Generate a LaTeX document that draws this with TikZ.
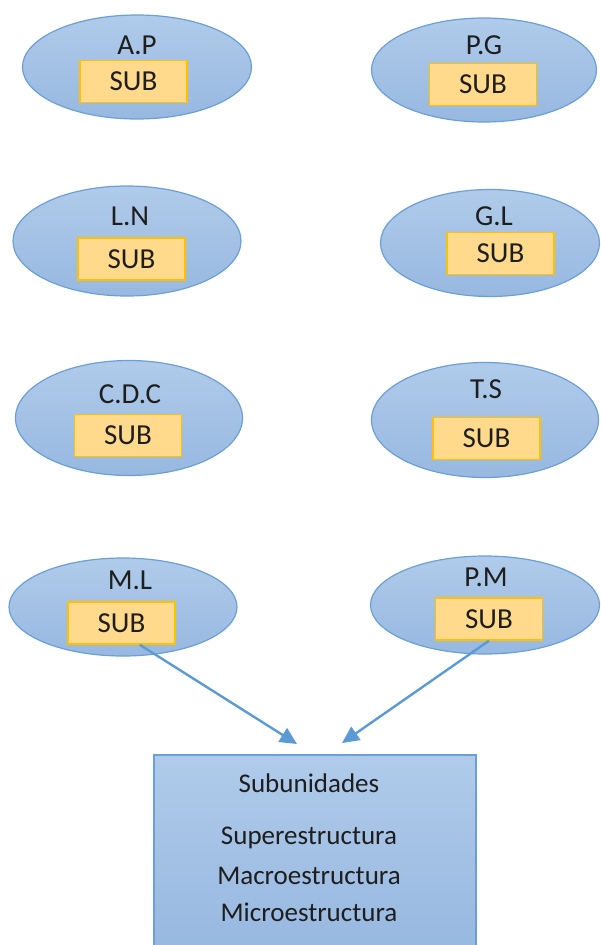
\documentclass[tikz,border=0pt]{standalone}
\usepackage{fontspec}
\setmainfont{Carlito}
\usetikzlibrary{shapes.geometric,arrows.meta}
\definecolor{ovaltop}{HTML}{B0CBEA}
\definecolor{ovalbot}{HTML}{97B8E0}
\definecolor{ovalline}{HTML}{6A9FD8}
\definecolor{subfill}{HTML}{FFD98C}
\definecolor{subline}{HTML}{FFC000}
\definecolor{linkcol}{HTML}{5B9BD5}
\definecolor{inkcol}{HTML}{1E1E1E}
\tikzset{
  oval/.style={ellipse,draw=ovalline,line width=1.2pt,top color=ovaltop,bottom color=ovalbot,inner sep=0pt},
  subbox/.style={rectangle,draw=subline,line width=1.5pt,fill=subfill,minimum width=107pt,minimum height=42pt,inner sep=0pt,text=inkcol,font=\fontsize{29}{34}\selectfont},
  tag/.style={inner sep=0pt,text=inkcol,font=\fontsize{29}{34}\selectfont},
  note/.style={inner sep=0pt,text=inkcol,font=\fontsize{27}{32}\selectfont},
  link/.style={draw=linkcol,line width=2.4pt,-{Triangle[length=17pt,width=16pt]}}
}

\begin{document}
\begin{tikzpicture}[x=1pt,y=-1pt]
    \useasboundingbox (0,0) rectangle (601,945);

    % — Left column
    \node [oval,minimum width=229pt,minimum height=104pt] (ap) at (137,67) {};
    \node [tag] (aplab) at (137,45) {A.P};
    \node [subbox] (apsub) at (133.5,81.5) {SUB};

    \node [oval,minimum width=228pt,minimum height=110pt] (ln) at (127,241) {};
    \node [tag] (lnlab) at (130,216) {L.N};
    \node [subbox] (lnsub) at (131.5,259) {SUB};

    \node [oval,minimum width=227pt,minimum height=115pt] (cdc) at (129,418) {};
    \node [tag] (cdclab) at (130,394) {C.D.C};
    \node [subbox] (cdcsub) at (128,435.5) {SUB};

    \node [oval,minimum width=228pt,minimum height=98pt] (ml) at (123,607) {};
    \node [tag] (mllab) at (130,580) {M.L};
    \node [subbox] (mlsub) at (121.5,623) {SUB};

    % — Right column
    \node [oval,minimum width=225pt,minimum height=104pt] (pg) at (484,70) {};
    \node [tag] (pglab) at (484,45) {P.G};
    \node [subbox] (pgsub) at (483,84.5) {SUB};

    \node [oval,minimum width=219pt,minimum height=107pt] (gl) at (490,243) {};
    \node [tag] (gllab) at (494,216) {G.L};
    \node [subbox] (glsub) at (500.5,253.5) {SUB};

    \node [oval,minimum width=227pt,minimum height=115pt] (ts) at (485,420) {};
    \node [tag] (tslab) at (486,389) {T.S};
    \node [subbox] (tssub) at (486.5,438.5) {SUB};

    \node [oval,minimum width=229pt,minimum height=98pt] (pm) at (485,605) {};
    \node [tag] (pmlab) at (486,577) {P.M};
    \node [subbox] (pmsub) at (489,619) {SUB};

    % — Summary box
    \node [rectangle,draw=ovalline,line width=1.2pt,top color=ovaltop,bottom color=ovalbot,
           minimum width=322pt,minimum height=195pt] (summary) at (315,852.5) {};
    \node [note] (title) at (309,783) {Subunidades};
    \node [note] (super) at (309,838) {Superestructura};
    \node [note] (macro) at (309,876) {Macroestructura};
    \node [note] (micro) at (309,912) {Microestructura};

    % — Arrows into the box
    \coordinate (inleft)  at (297,744);
    \coordinate (inright) at (342,743);
    \draw [link] (mlsub.-50) -- (inleft);
    \draw [link] (pmsub.south) -- (inright);
\end{tikzpicture}
\end{document}
